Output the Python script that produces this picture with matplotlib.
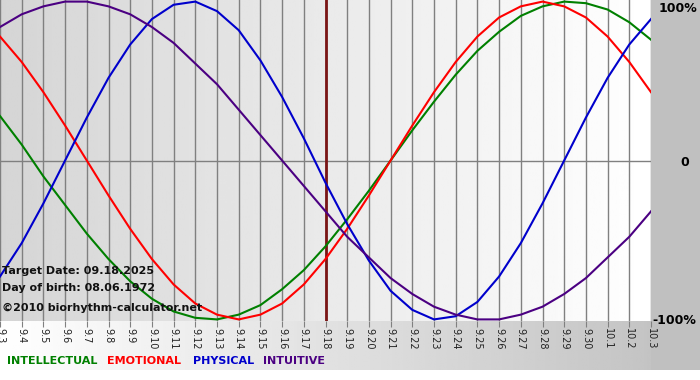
import numpy as np
import matplotlib
matplotlib.use('Agg')
from matplotlib import pyplot as plt

# day labels, 09.03 .. 10.03
dates = ['9.3', '9.4', '9.5', '9.6', '9.7', '9.8', '9.9', '9.10', '9.11', '9.12',
         '9.13', '9.14', '9.15', '9.16', '9.17', '9.18', '9.19', '9.20', '9.21',
         '9.22', '9.23', '9.24', '9.25', '9.26', '9.27', '9.28', '9.29', '9.30',
         '10.1', '10.2', '10.3']

# cycle values in percent, one per day
physical = [-73, -52, -27, 0, 27, 52, 73, 89, 98, 100, 94, 82, 63, 40, 14, -14,
            -40, -63, -82, -94, -100, -98, -89, -73, -52, -27, 0, 27, 52, 73, 89]
emotional = [78, 62, 43, 22, 0, -22, -43, -62, -78, -90, -97, -100, -97, -90, -78,
             -62, -43, -22, 0, 22, 43, 62, 78, 90, 97, 100, 97, 90, 78, 62, 43]
intellectual = [28, 10, -10, -28, -46, -62, -76, -87, -95, -99, -100, -97, -91, -81,
                -69, -54, -37, -19, 0, 19, 37, 54, 69, 81, 91, 97, 100, 99, 95, 87, 76]
intuitive = [84, 92, 97, 100, 100, 97, 92, 84, 74, 61, 48, 32, 16, 0, -16, -32, -48,
             -61, -74, -84, -92, -97, -100, -100, -97, -92, -84, -74, -61, -48, -32]

target = '9.18'
info = ['Target Date: 09.18.2025', 'Day of birth: 08.06.1972',
        '\u00a92010 biorhythm-calculator.net']

W, H = 700, 380
PW, PH = 651, 321

fig = plt.figure(figsize=(7, 3.8), dpi=100)
fig.patch.set_facecolor('white')

# background panels in pixel coords
bg = fig.add_axes([0, 0, 1, 1])
bg.set_xlim(0, W)
bg.set_ylim(H, 0)
bg.axis('off')
grad = np.linspace(0, 1, 256).reshape(1, -1)
bg.imshow(1 - grad * 0.25, cmap='gray', vmin=0, vmax=1,
          extent=[0, W, 370, PH], aspect='auto')
bg.imshow(np.full((1, 1), 0.753), cmap='gray', vmin=0, vmax=1,
          extent=[PW, W, 370, 0], aspect='auto')

ax = fig.add_axes([0, 1 - PH / H, PW / W, PH / H])
ax.patch.set_alpha(0)
x = np.arange(len(dates))
ax.set_xlim(0, len(dates) - 1)
ax.set_ylim(-101, 101)
ax.imshow(0.835 + grad * 0.165, cmap='gray', vmin=0, vmax=1,
          extent=[0, len(dates) - 1, -101, 101], aspect='auto', zorder=0)

for xi in x:
    ax.axvline(xi, color='#808080', lw=1, zorder=1)
ax.axhline(0, color='#808080', lw=1, zorder=1)

ax.axvline(dates.index(target), color='#7a1515', lw=2, zorder=2)

ax.plot(x, intellectual, color='#008000', lw=1.5, zorder=3)
ax.plot(x, emotional, color='#ff0000', lw=1.5, zorder=3)
ax.plot(x, physical, color='#0000cc', lw=1.5, zorder=3)
ax.plot(x, intuitive, color='#4b0082', lw=1.5, zorder=3)

for s in ax.spines.values():
    s.set_visible(False)
ax.set_yticks([])
ax.set_xticks(x)
ax.set_xticklabels(dates, rotation=-90, fontsize=7, color='#222222')
ax.tick_params(axis='x', length=4, color='#808080', pad=1)

for i, t in enumerate(info):
    fig.text(2 / W, 1 - (271 + i * 17 + (3 if i == 2 else 0)) / H, t,
             fontsize=8, fontweight='bold', color='#111111', va='center')

fig.text(659 / W, 1 - 8 / H, '100%', fontsize=9, fontweight='bold', va='center')
fig.text(680 / W, 1 - 162 / H, '0', fontsize=9, fontweight='bold', va='center')
fig.text(652 / W, 1 - 321 / H, '-100%', fontsize=9, fontweight='bold', va='center')

legend = [('INTELLECTUAL', '#008000'), ('EMOTIONAL', '#ff0000'),
          ('PHYSICAL', '#0000cc'), ('INTUITIVE', '#4b0082')]
xpos = [7, 107, 193, 263]
for (name, col), xp in zip(legend, xpos):
    fig.text(xp / W, 1 - 361 / H, name, fontsize=8, fontweight='bold',
             color=col, va='center')

fig.savefig('out.png', dpi=100)
